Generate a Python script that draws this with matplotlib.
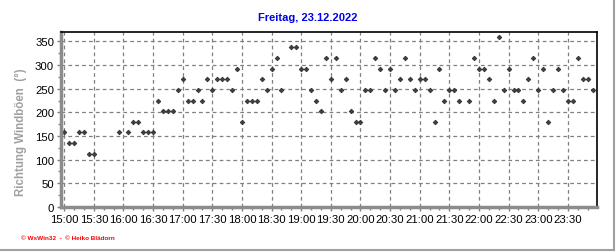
import matplotlib
matplotlib.use("Agg")
import matplotlib.pyplot as plt
from matplotlib.ticker import MultipleLocator, FuncFormatter
from matplotlib.lines import Line2D

# gust direction readings, 5 minute steps with some gaps
times = ["15:00", "15:05", "15:10", "15:15", "15:20", "15:25", "15:30",
         "15:55", "16:05", "16:10", "16:15", "16:20", "16:25", "16:30", "16:35",
         "16:40", "16:45", "16:50", "16:55", "17:00", "17:05", "17:10", "17:15",
         "17:20", "17:25", "17:30", "17:35", "17:40", "17:45", "17:50", "17:55",
         "18:00", "18:05", "18:10", "18:15", "18:20", "18:25", "18:30", "18:35",
         "18:40", "18:50", "18:55", "19:00", "19:05",
         "19:10", "19:15", "19:20", "19:25", "19:30", "19:35", "19:40", "19:45",
         "19:50", "19:55", "20:00", "20:05", "20:10", "20:15", "20:20", "20:25",
         "20:30", "20:35", "20:40", "20:45", "20:50", "20:55", "21:00", "21:05",
         "21:10", "21:15", "21:20", "21:25", "21:30", "21:35", "21:40",
         "21:50", "21:55", "22:00", "22:05", "22:10", "22:15", "22:20", "22:25",
         "22:30", "22:35", "22:40", "22:45", "22:50", "22:55", "23:00", "23:05",
         "23:10", "23:15", "23:20", "23:25", "23:30", "23:35", "23:40", "23:45",
         "23:50", "23:55"]
direction = [157.5, 135, 135, 157.5, 157.5, 112.5, 112.5,
             157.5, 157.5, 180, 180, 157.5, 157.5, 157.5, 225,
             202.5, 202.5, 202.5, 247.5, 270, 225, 225, 247.5,
             225, 270, 247.5, 270, 270, 270, 247.5, 292.5,
             180, 225, 225, 225, 270, 247.5, 292.5, 315,
             247.5, 337.5, 337.5, 292.5, 292.5,
             247.5, 225, 202.5, 315, 270, 315, 247.5, 270,
             202.5, 180, 180, 247.5, 247.5, 315, 292.5, 247.5,
             292.5, 247.5, 270, 315, 270, 247.5, 270, 270,
             247.5, 180, 292.5, 225, 247.5, 247.5, 225,
             225, 315, 292.5, 292.5, 270, 225, 360, 247.5,
             292.5, 247.5, 247.5, 225, 270, 315, 247.5, 292.5,
             180, 247.5, 292.5, 247.5, 225, 225, 315, 270,
             270, 247.5]

hours = [int(t[:2]) + int(t[3:]) / 60 for t in times]

plt.rcParams['font.family'] = ['Liberation Sans', 'DejaVu Sans']

fig = plt.figure(figsize=(6.16, 2.53), dpi=100)
ax = fig.add_axes([0.099, 0.178, 0.870, 0.692])

ax.plot(hours, direction, linestyle="none", marker="D", markersize=2.4,
        color="#404040", markeredgecolor="#2a2a2a", markeredgewidth=0.5)

ax.set_xlim(14.945, 23.99)
ax.set_ylim(0, 370)
ax.xaxis.set_major_locator(MultipleLocator(0.5))
ax.xaxis.set_minor_locator(MultipleLocator(1 / 6))
ax.yaxis.set_major_locator(MultipleLocator(50))
ax.yaxis.set_minor_locator(MultipleLocator(25))
ax.xaxis.set_major_formatter(FuncFormatter(
    lambda v, p: "%02d:%02d" % (int(v + 1e-6), round((v - int(v + 1e-6)) * 60))))
ax.set_xticks([15 + 0.5 * i for i in range(18)])

ax.grid(True, which="major", color="#808080", linestyle=(0, (3, 2.5)), linewidth=0.9)
ax.tick_params(axis="both", which="major", labelsize=8.2, length=3, width=1,
               color="#808080", pad=2)
ax.tick_params(axis="both", which="minor", length=2, width=1, color="#808080")

for side in ["left", "bottom"]:
    ax.spines[side].set_color("#8c8c8c")
    ax.spines[side].set_linewidth(2.5)
for side in ["top", "right"]:
    ax.spines[side].set_color("black")
    ax.spines[side].set_linewidth(1.2)

ax.set_ylabel("Richtung Windböen  (°)", fontsize=8.3, fontweight="bold",
              color="#a0a0a0", labelpad=4)
ax.yaxis.set_label_coords(-0.063, 0.43)

fig.text(0.5, 0.93, "Freitag, 23.12.2022", ha="center", va="center",
         fontsize=8, fontweight="bold", color="#0000ee")
fig.text(0.034, 0.057, "© WsWin32  -  © Heiko Blädorn", ha="left", va="center",
         fontsize=4.6, fontweight="bold", color="#ff0000")

# outer frame lines at right and bottom
fig.add_artist(Line2D([0, 0.996], [0.006, 0.006], color="#a0a0a0", lw=1.5,
                      transform=fig.transFigure))
fig.add_artist(Line2D([0.996, 0.996], [0.006, 1], color="#a0a0a0", lw=1.5,
                      transform=fig.transFigure))

fig.savefig("out.png", dpi=100)
